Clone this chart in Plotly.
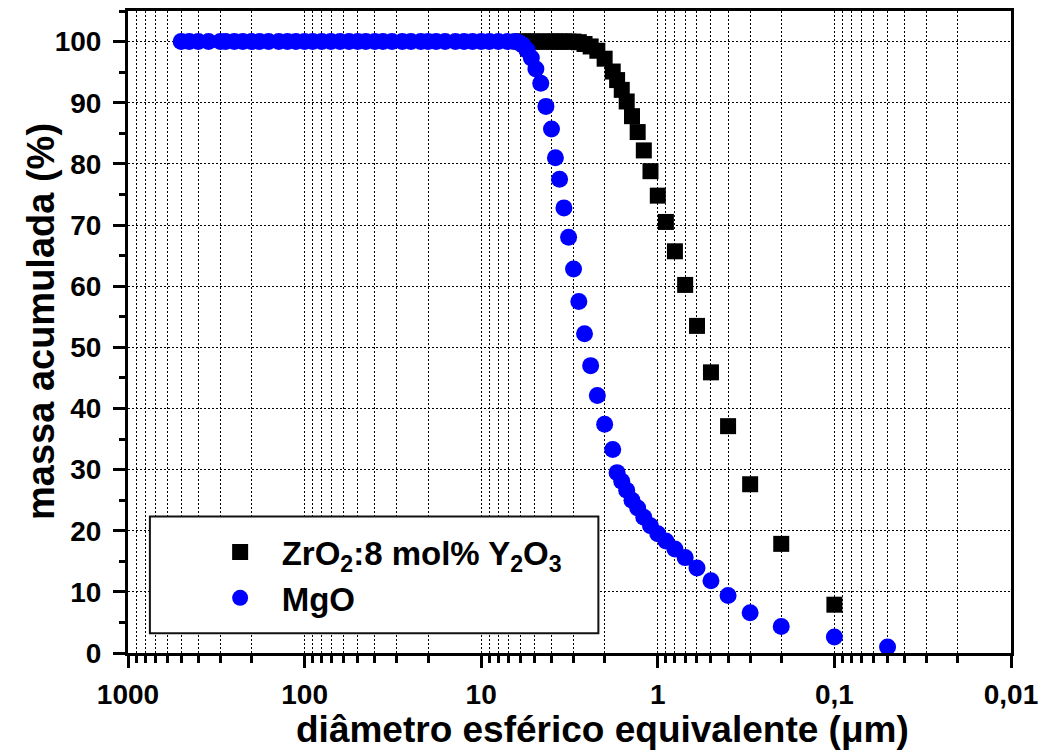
import plotly.graph_objects as go

# ---- data ----
zro2_d = [6.1, 5.8, 5.5, 5.2, 4.9, 4.6, 4.3, 4.0, 3.8, 3.6, 3.4, 3.2, 3.0, 2.8, 2.6, 2.4, 2.2, 2.0,
          1.8, 1.7, 1.6, 1.5, 1.4, 1.3, 1.2, 1.1, 1.0, 0.9, 0.8, 0.7, 0.6, 0.5, 0.4, 0.3, 0.2, 0.1]
zro2_m = [100, 100, 100, 100, 100, 100, 100, 100, 100, 100, 100, 100, 100, 99.9, 99.6, 99.2, 98.5, 97.2,
          95.1, 93.7, 92.1, 90.2, 87.8, 85.2, 82.2, 78.8, 74.8, 70.5, 65.7, 60.2, 53.5, 45.9, 37.1, 27.6, 17.85, 7.9]

mgo_d = [500, 450, 400, 350, 300, 280, 250, 224, 200, 180, 160, 140, 125, 112, 100, 90, 80, 71, 63, 56,
         50, 45, 40, 36, 32, 28, 25, 22, 20, 18, 16, 14, 12.5, 11.2, 10, 9, 8, 7.1, 6.4,
         6.1, 5.8, 5.5, 5.2, 4.9, 4.6, 4.3, 4.0, 3.8, 3.6, 3.4, 3.2, 3.0, 2.8, 2.6, 2.4, 2.2, 2.0,
         1.8, 1.7, 1.6, 1.5, 1.4, 1.3, 1.2, 1.1, 1.0, 0.9, 0.8, 0.7, 0.6, 0.5, 0.4, 0.3, 0.2, 0.1, 0.05]
mgo_m = [100] * 39 + [99.8, 99.4, 98.6, 97.3, 95.5, 93.2, 89.4, 85.7, 81.0, 77.5, 72.8, 68.0, 62.8, 57.5,
                      52.2, 47.0, 42.1, 37.4, 33.3, 29.5, 28.1, 26.6, 25.0, 23.7, 22.2, 20.8, 19.5, 18.3,
                      17.0, 15.6, 13.9, 11.8, 9.4, 6.6, 4.35, 2.6, 1.0]

x_tickvals = [1000, 100, 10, 1, 0.1, 0.01]
x_ticktext = ["1000", "100", "10", "1", "0,1", "0,01"]
y_tickvals = [0, 10, 20, 30, 40, 50, 60, 70, 80, 90, 100]

FONT = "Arial, Liberation Sans, sans-serif"

fig = go.Figure()
fig.add_trace(go.Scatter(
    x=zro2_d, y=zro2_m, mode="markers", name="ZrO<sub>2</sub>:8 mol% Y<sub>2</sub>O<sub>3</sub>",
    marker=dict(symbol="square", size=16, color="black", line=dict(width=0))))
fig.add_trace(go.Scatter(
    x=mgo_d, y=mgo_m, mode="markers", name="MgO",
    marker=dict(symbol="circle", size=17, color="#0000ff", line=dict(width=0))))

minor_x = [m * 10 ** e for e in range(-2, 3) for m in range(2, 10)]
grid_dash = "2px,2px"

fig.update_xaxes(
    type="log", range=[3, -2],
    tickvals=x_tickvals, ticktext=x_ticktext,
    tickfont=dict(family=FONT, size=28, color="black", weight="bold"),
    ticks="outside", ticklen=12, tickwidth=3, tickcolor="black", ticklabelstandoff=2,
    showline=True, linewidth=3, linecolor="black", mirror=True,
    showgrid=True, gridcolor="black", gridwidth=1, griddash=grid_dash,
    zeroline=False,
    minor=dict(tickvals=minor_x, ticks="outside", ticklen=7, tickwidth=3, tickcolor="black",
               showgrid=True, gridcolor="black", gridwidth=1, griddash=grid_dash),
)
fig.update_yaxes(
    range=[0, 105], tickvals=y_tickvals,
    tickfont=dict(family=FONT, size=28, color="black", weight="bold"),
    ticks="outside", ticklen=12, tickwidth=3, tickcolor="black", ticklabelstandoff=6,
    showline=True, linewidth=3, linecolor="black", mirror=True,
    showgrid=True, gridcolor="black", gridwidth=1, griddash=grid_dash,
    zeroline=False,
    minor=dict(dtick=5, ticks="outside", ticklen=6, tickwidth=3, tickcolor="black", showgrid=False),
)

# legend box
fig.add_shape(type="rect", xref="x domain", yref="y domain",
              x0=0.0248, x1=0.5327, y0=0.0306, y1=0.2125,
              fillcolor="white", line=dict(color="#111", width=2), layer="above")

fig.update_layout(
    width=1046, height=751,
    margin=dict(l=128, r=32, t=8, b=98),
    paper_bgcolor="white", plot_bgcolor="white",
    showlegend=True,
    legend=dict(x=0.08, y=0.201, xanchor="left", yanchor="top",
                bgcolor="rgba(0,0,0,0)", borderwidth=0,
                font=dict(family=FONT, size=33, color="black", weight="bold"),
                itemwidth=73, tracegroupgap=0),
    annotations=[
        dict(text="diâmetro esférico equivalente (μm)", xref="paper", yref="paper",
             x=(604 - 128) / 886, y=-(730 - 652.7) / 644.7, xanchor="center", yanchor="middle",
             showarrow=False, font=dict(family=FONT, size=37, color="black", weight="bold")),
        dict(text="massa acumulada (%)", xref="paper", yref="paper", textangle=-90,
             x=-(128 - 40) / 886, y=(652.7 - 320) / 644.7, xanchor="center", yanchor="middle",
             showarrow=False, font=dict(family=FONT, size=38, color="black", weight="bold")),
    ],
)

fig.write_html("out.html")
